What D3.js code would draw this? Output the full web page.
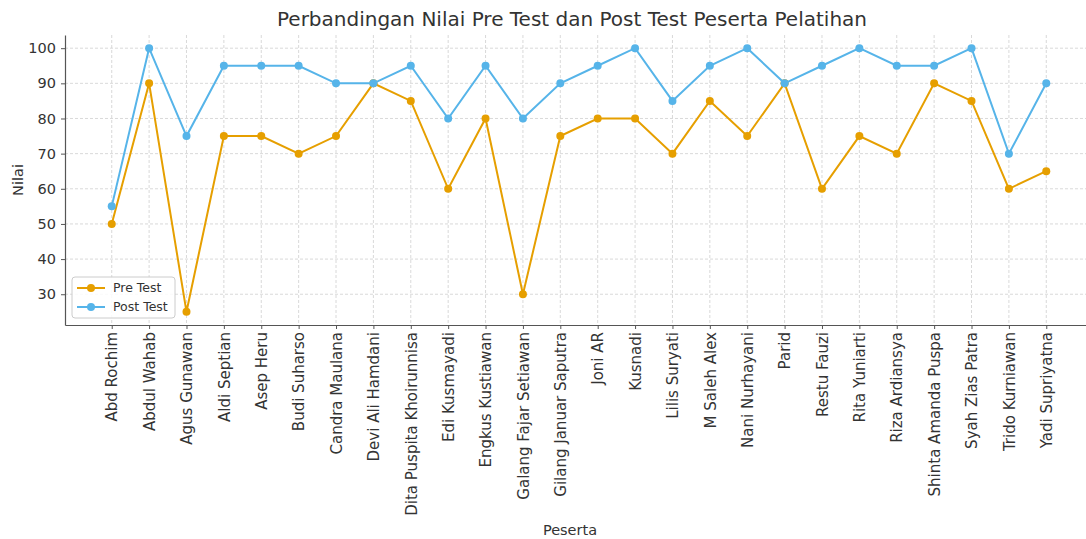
<!DOCTYPE html>
<html lang="id">
<head>
<meta charset="UTF-8">
<title>Perbandingan Nilai</title>
<script src="https://cdn.jsdelivr.net/npm/d3@7"></script>
<style>
  body { margin: 0; background: #fff; }
  svg text { font-family: "DejaVu Sans", sans-serif; fill: #333; }
</style>
</head>
<body>
<svg id="chart" width="1086" height="539"></svg>
<script>
// data
var peserta = ["Abd Rochim","Abdul Wahab","Agus Gunawan","Aldi Septian","Asep Heru","Budi Suharso",
  "Candra Maulana","Devi Ali Hamdani","Dita Puspita Khoirunnisa","Edi Kusmayadi","Engkus Kustiawan",
  "Galang Fajar Setiawan","Gilang Januar Saputra","Joni AR","Kusnadi","Lilis Suryati","M Saleh Alex",
  "Nani Nurhayani","Parid","Restu Fauzi","Rita Yuniarti","Riza Ardiansya","Shinta Amanda Puspa",
  "Syah Zias Patra","Trido Kurniawan","Yadi Supriyatna"];
var preTest  = [50,90,25,75,75,70,75,90,85,60,80,30,75,80,80,70,85,75,90,60,75,70,90,85,60,65];
var postTest = [55,100,75,95,95,95,90,90,95,80,95,80,90,95,100,85,95,100,90,95,100,95,95,100,70,90];
var yTicks = [30,40,50,60,70,80,90,100];

var series = [
  {name:"Pre Test", values:preTest, color:"#E69F00"},
  {name:"Post Test", values:postTest, color:"#56B4E9"}
];

var svg = d3.select("#chart");
var pLeft = 65, pRight = 1093, pTop = 35, pBottom = 325;

// matplotlib-like 5% margins
var n = peserta.length;
var x = d3.scaleLinear().domain([-0.05*(n-1), (n-1)*1.05]).range([pLeft, pRight]);
var allVals = preTest.concat(postTest);
var lo = d3.min(allVals), hi = d3.max(allVals), pad = (hi-lo)*0.05;
var y = d3.scaleLinear().domain([lo-pad, hi+pad]).range([pBottom, pTop]);

// grid
var grid = svg.append("g");
grid.selectAll(".gx").data(peserta).enter().append("line")
  .attr("x1", function(d,i){ return x(i); }).attr("x2", function(d,i){ return x(i); })
  .attr("y1", pTop).attr("y2", pBottom)
  .attr("stroke","#cfcfcf").attr("stroke-width",0.8).attr("stroke-dasharray","3,2");
grid.selectAll(".gy").data(yTicks).enter().append("line")
  .attr("x1", pLeft).attr("x2", pRight)
  .attr("y1", function(d){ return y(d); }).attr("y2", function(d){ return y(d); })
  .attr("stroke","#cfcfcf").attr("stroke-width",0.8).attr("stroke-dasharray","3,2");

// axes
var xAxis = d3.axisBottom(x).tickValues(d3.range(n)).tickFormat(function(i){ return peserta[i]; })
  .tickSize(4).tickSizeOuter(0).tickPadding(4);
var gx = svg.append("g").attr("transform","translate(0,"+pBottom+")").call(xAxis);
gx.select(".domain").attr("stroke","#555").attr("stroke-width",1.2);
gx.selectAll(".tick line").attr("stroke","#555");
gx.selectAll(".tick text")
  .attr("font-size",15)
  .attr("transform","rotate(-90)")
  .attr("text-anchor","end")
  .attr("x",-7).attr("y",0).attr("dy","0.35em");

var yAxis = d3.axisLeft(y).tickValues(yTicks).tickSize(4).tickSizeOuter(0).tickPadding(5);
var gy = svg.append("g").attr("transform","translate("+pLeft+",0)").call(yAxis);
gy.select(".domain").attr("stroke","#555").attr("stroke-width",1.2);
gy.selectAll(".tick line").attr("stroke","#555");
gy.selectAll(".tick text").attr("font-size",14.5);

// lines
var line = d3.line().x(function(d,i){ return x(i); }).y(function(d){ return y(d); });
series.forEach(function(s){
  svg.append("path").datum(s.values)
    .attr("d", line).attr("fill","none")
    .attr("stroke", s.color).attr("stroke-width",2);
  svg.append("g").selectAll("circle").data(s.values).enter().append("circle")
    .attr("cx", function(d,i){ return x(i); })
    .attr("cy", function(d){ return y(d); })
    .attr("r", 4).attr("fill", s.color);
});

// titles
svg.append("text").attr("x",572).attr("y",26)
  .attr("text-anchor","middle").attr("font-size",20).text("Perbandingan Nilai Pre Test dan Post Test Peserta Pelatihan");
svg.append("text").attr("x",570).attr("y",535)
  .attr("text-anchor","middle").attr("font-size",14.5).text("Peserta");
svg.append("text").attr("transform","translate(23,"+((pTop+pBottom)/2)+") rotate(-90)")
  .attr("text-anchor","middle").attr("font-size",14.5).text("Nilai");

// legend
var lg = svg.append("g").attr("transform","translate(72,277)");
lg.append("rect").attr("width",103).attr("height",41).attr("rx",3)
  .attr("fill","#fff").attr("fill-opacity",0.85).attr("stroke","#ccc");
series.forEach(function(s,i){
  var yy = 11 + i*19;
  lg.append("line").attr("x1",5).attr("x2",33).attr("y1",yy).attr("y2",yy)
    .attr("stroke",s.color).attr("stroke-width",2);
  lg.append("circle").attr("cx",19).attr("cy",yy).attr("r",4).attr("fill",s.color);
  lg.append("text").attr("x",41).attr("y",yy).attr("dy","0.35em")
    .attr("font-size",12.5).text(s.name);
});
</script>
</body>
</html>
